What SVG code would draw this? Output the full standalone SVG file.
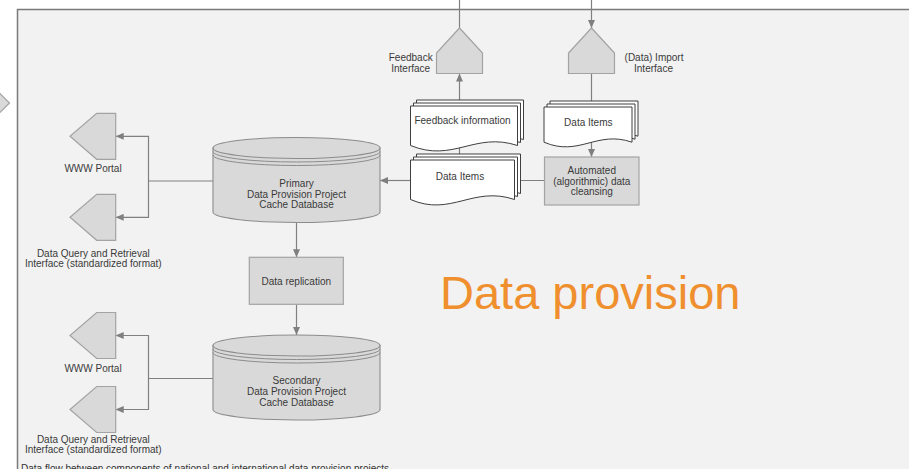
<svg xmlns="http://www.w3.org/2000/svg" width="909" height="469" viewBox="0 0 909 469">
  <defs>
    <style>
      .lbl { font-family: "Liberation Sans", Arial, sans-serif; font-size: 10px; fill: #3a3a3a; text-anchor: middle; }
      .cap { font-family: "Liberation Sans", Arial, sans-serif; font-size: 10px; fill: #333333; }
      .big { font-family: "Liberation Sans", Arial, sans-serif; font-size: 47px; fill: #EF8F2E; }
      .conn { fill: none; stroke: #808080; stroke-width: 1.2; }
      .shape { fill: #d9d9d9; stroke: #a3a3a3; stroke-width: 1.2; }
      .db { fill: #d9d9d9; stroke: #8c8c8c; stroke-width: 1.1; }
      .ring { fill: none; stroke: #8c8c8c; stroke-width: 1; }
      .doc { fill: #ffffff; stroke: #3f3f3f; stroke-width: 1; }
    </style>
    <marker id="arr" markerWidth="8" markerHeight="7" refX="8" refY="3.5" orient="auto" markerUnits="userSpaceOnUse">
      <path d="M0,0 L8,3.5 L0,7 z" fill="#7f7f7f"/>
    </marker>
  </defs>

  <!-- white strip above the panel -->
  <rect x="0" y="0" width="909" height="469" fill="#ffffff"/>

  <!-- neighbouring element at the left edge -->
  <polygon points="-40,80 -14,80 9.5,103 -14,126 -40,126" class="shape"/>

  <!-- panel -->
  <rect x="17.5" y="9.5" width="900" height="470" fill="#f2f2f2" stroke="#7a7a7a" stroke-width="1.5"/>

  <!-- connectors -->
  <g id="connectors">
    <path class="conn" d="M459.5,0 V28"/>
    <path class="conn" d="M459.5,162 V73.5" marker-end="url(#arr)"/>
    <path class="conn" d="M591.5,0 V28" marker-end="url(#arr)"/>
    <path class="conn" d="M591.5,73 V157" marker-end="url(#arr)"/>
    <path class="conn" d="M544.5,180.5 H512"/>
    <path class="conn" d="M412,180.5 H380" marker-end="url(#arr)"/>
    <path class="conn" d="M213,181 H148.5 V136.3 H115.7" marker-end="url(#arr)"/>
    <path class="conn" d="M148.5,181 V217.3 H115.7" marker-end="url(#arr)"/>
    <path class="conn" d="M296.5,222.5 V257.3" marker-end="url(#arr)"/>
    <path class="conn" d="M296.5,304.3 V335" marker-end="url(#arr)"/>
    <path class="conn" d="M213,378.5 H148.5 V335.5 H115.7" marker-end="url(#arr)"/>
    <path class="conn" d="M148.5,378.5 V409.5 H115.7" marker-end="url(#arr)"/>
  </g>

  <!-- interfaces on the panel top -->
  <g id="feedback-interface">
    <polygon class="shape" points="459.5,28 482.5,53 482.5,73.5 436.5,73.5 436.5,53"/>
    <text class="lbl" x="410.7" y="61">Feedback</text>
    <text class="lbl" x="410.7" y="72">Interface</text>
  </g>
  <g id="import-interface">
    <polygon class="shape" points="591.5,28 614.5,53 614.5,73.5 568.5,73.5 568.5,53"/>
    <text class="lbl" x="654" y="61">(Data) Import</text>
    <text class="lbl" x="653.5" y="71.5">Interface</text>
  </g>

  <!-- document stacks: three sheets each, wavy bottom edge -->
  <g id="feedback-information">
    <path class="doc" d="M416.5,100 H523.5 V139.5 C480.7,125.5 459.3,157 416.5,139.5 Z"/>
    <path class="doc" d="M413.5,103 H520.5 V142.5 C477.7,128.5 456.3,160 413.5,142.5 Z"/>
    <path class="doc" d="M410.5,106 H517.5 V145.5 C474.7,131.5 453.3,163 410.5,145.5 Z"/>
    <text class="lbl" x="462.5" y="124">Feedback information</text>
  </g>
  <g id="data-items-left">
    <path class="doc" d="M416.5,154 H520.5 V193.5 C478.9,179.5 457.1,211 416.5,193.5 Z"/>
    <path class="doc" d="M413.5,157 H517.5 V196.5 C475.9,182.5 454.1,214 413.5,196.5 Z"/>
    <path class="doc" d="M410.5,160 H514.5 V199.5 C472.9,185.5 451.1,217 410.5,199.5 Z"/>
    <text class="lbl" x="460" y="179.5">Data Items</text>
  </g>
  <g id="data-items-right">
    <path class="doc" d="M550,101 H638 V136.2 C602.8,123.9 585.2,151.2 550,136.2 Z"/>
    <path class="doc" d="M547,104 H635 V139.2 C599.8,126.9 582.2,154.2 547,139.2 Z"/>
    <path class="doc" d="M544,107 H632 V142.2 C596.8,129.9 579.2,157.2 544,142.2 Z"/>
    <text class="lbl" x="588.3" y="126">Data Items</text>
  </g>

  <g id="cleansing">
    <rect class="shape" x="544.5" y="157" width="94.5" height="48"/>
    <text class="lbl" x="591.8" y="173.5">Automated</text>
    <text class="lbl" x="591.8" y="184.5">(algorithmic) data</text>
    <text class="lbl" x="591.8" y="195">cleansing</text>
  </g>

  <!-- primary cache database -->
  <g id="primary-db">
    <path class="db" d="M213,148 V212 A83.5,10.5 0 0 0 380,212 V148 Z"/>
    <ellipse class="db" cx="296.5" cy="148" rx="83.5" ry="10.5"/>
    <path class="ring" d="M213,151.5 A83.5,10.5 0 0 0 380,151.5"/>
    <path class="ring" d="M213,155 A83.5,10.5 0 0 0 380,155"/>
    <text class="lbl" x="296.5" y="186.5">Primary</text>
    <text class="lbl" x="296.5" y="197.5">Data Provision Project</text>
    <text class="lbl" x="296.5" y="208">Cache Database</text>
  </g>

  <g id="replication">
    <rect class="shape" x="249.3" y="257.3" width="94" height="47"/>
    <text class="lbl" x="296.3" y="285">Data replication</text>
  </g>

  <!-- secondary cache database -->
  <g id="secondary-db">
    <path class="db" d="M213,345.5 V409.5 A83.5,10.5 0 0 0 380,409.5 V345.5 Z"/>
    <ellipse class="db" cx="296.5" cy="345.5" rx="83.5" ry="10.5"/>
    <path class="ring" d="M213,349 A83.5,10.5 0 0 0 380,349"/>
    <path class="ring" d="M213,352.5 A83.5,10.5 0 0 0 380,352.5"/>
    <text class="lbl" x="296.5" y="384">Secondary</text>
    <text class="lbl" x="296.5" y="395">Data Provision Project</text>
    <text class="lbl" x="296.5" y="406">Cache Database</text>
  </g>

  <!-- outlets of the primary database -->
  <g id="www-portal-1">
    <polygon class="shape" points="96.7,113.3 115.7,113.3 115.7,159.3 96.7,159.3 70,136.3"/>
    <text class="lbl" x="93" y="171.5">WWW Portal</text>
  </g>
  <g id="query-interface-1">
    <polygon class="shape" points="96.7,194.3 115.7,194.3 115.7,240.3 96.7,240.3 70,217.3"/>
    <text class="lbl" x="93.3" y="256.5">Data Query and Retrieval</text>
    <text class="lbl" x="93.3" y="266.7">Interface (standardized format)</text>
  </g>

  <!-- outlets of the secondary database -->
  <g id="www-portal-2">
    <polygon class="shape" points="96.7,312.5 115.7,312.5 115.7,358.5 96.7,358.5 70,335.5"/>
    <text class="lbl" x="93" y="371.7">WWW Portal</text>
  </g>
  <g id="query-interface-2">
    <polygon class="shape" points="96.7,386.5 115.7,386.5 115.7,432.5 96.7,432.5 70,409.5"/>
    <text class="lbl" x="93.3" y="442.5">Data Query and Retrieval</text>
    <text class="lbl" x="93.3" y="452.7">Interface (standardized format)</text>
  </g>

  <text class="big" x="440" y="308.5">Data provision</text>

  <text class="cap" x="21" y="472">Data flow between components of national and international data provision projects</text>
</svg>
